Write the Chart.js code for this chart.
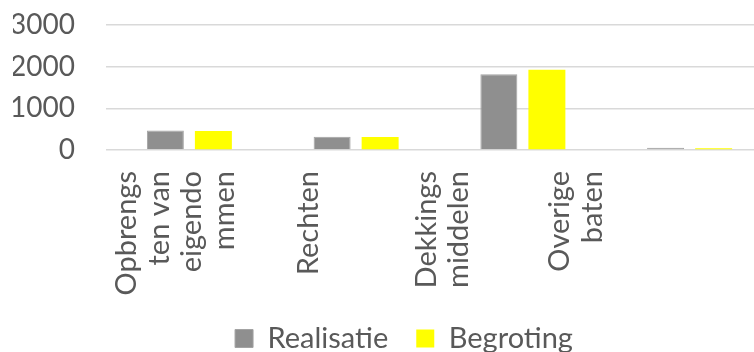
<!DOCTYPE html>
<html>
<head>
<meta charset="utf-8">
<script src="https://cdn.jsdelivr.net/npm/chart.js@4"></script>
<style>
    html, body { margin: 0; padding: 0; background: #ffffff; }
    #frame { width: 754px; height: 352px; overflow: hidden; position: relative; }
    #wrap { width: 795px; height: 363px; position: absolute; left: 0; top: 0; }
</style>
</head>
<body>
<div id="frame"><div id="wrap"><canvas id="baten_chart"></canvas></div></div>
<script>
const categories = ['Opbrengsten van eigendommen', 'Rechten', 'Dekkingsmiddelen', 'Overige baten'];
const tickLabels = [
    ['Opbrengs', 'ten van', 'eigendo', 'mmen'],
    ['Rechten'],
    ['Dekkings', 'middelen'],
    ['Overige', 'baten']
];
const realisatie = [466, 321, 1817, 55];
const begroting = [458, 310, 1924, 40];
const yTicks = [0, 1000, 2000, 3000];

document.addEventListener('DOMContentLoaded', function () {
    const ctx = document.getElementById('baten_chart').getContext('2d');
    const fontSize = 29;
    const lineStep = 32.7;
    const halfStep = lineStep / 2;

    // spread the label lines over a half-step grid so every block ends up centred on its tick
    const maxLines = Math.max(...tickLabels.map(l => l.length));
    function padLines(lines) {
        const out = [];
        const start = maxLines - lines.length;
        for (let i = 0; i < start; i++) out.push('');
        lines.forEach((l, i) => {
            if (i > 0) out.push('');
            out.push(l);
        });
        return out;
    }
    const labelSlots = tickLabels.map(padLines);
    labelSlots.push('');

    new Chart(ctx, {
        type: 'bar',
        data: {
            labels: categories,
            datasets: [{
                label: 'Realisatie',
                data: realisatie,
                backgroundColor: '#8f8f8f',
                borderColor: '#a3a3a3',
                borderWidth: 1,
                categoryPercentage: 0.576,
                barPercentage: 0.77
            }, {
                label: 'Begroting',
                data: begroting,
                backgroundColor: '#ffff00',
                borderWidth: 0,
                categoryPercentage: 0.576,
                barPercentage: 0.77
            }]
        },
        options: {
            responsive: true,
            maintainAspectRatio: false,
            animation: false,
            layout: { padding: { left: 13, top: 25, right: 0, bottom: 0 } },
            plugins: {
                title: { display: false },
                tooltip: { enabled: false },
                legend: {
                    position: 'bottom',
                    labels: {
                        boxWidth: 18,
                        boxHeight: 18,
                        padding: 28,
                        color: '#595959',
                        font: { family: 'Lato', size: 29 }
                    }
                }
            },
            scales: {
                x: {
                    display: false,
                    offset: true
                },
                x2: {
                    type: 'category',
                    position: 'bottom',
                    labels: labelSlots,
                    offset: true,
                    afterFit: function (scale) { scale.height = 146; },
                    grid: { display: false, drawTicks: false },
                    border: { display: false },
                    ticks: {
                        autoSkip: false,
                        minRotation: 90,
                        maxRotation: 90,
                        padding: 21,
                        labelOffset: 3 - (maxLines - 1) * halfStep,
                        color: '#595959',
                        font: { family: 'Lato', size: fontSize, lineHeight: halfStep / fontSize }
                    }
                },
                y: {
                    min: 0,
                    max: 3000,
                    afterBuildTicks: function (scale) {
                        scale.ticks = yTicks.map(v => ({ value: v }));
                    },
                    afterFit: function (scale) { scale.width = 93; },
                    grid: {
                        color: '#d9d9d9',
                        lineWidth: 1.5,
                        drawTicks: true,
                        tickLength: 28,
                        tickColor: 'rgba(0,0,0,0)'
                    },
                    border: { display: false },
                    ticks: {
                        autoSkip: false,
                        padding: 3,
                        color: '#595959',
                        font: { family: 'Lato', size: 28 },
                        callback: function (value) { return String(value); }
                    }
                },
                yRight: {
                    position: 'right',
                    afterFit: function (scale) { scale.width = 22; },
                    grid: { display: false, drawTicks: false },
                    border: { display: false },
                    ticks: { display: false }
                }
            }
        }
    });
});
</script>
</body>
</html>
